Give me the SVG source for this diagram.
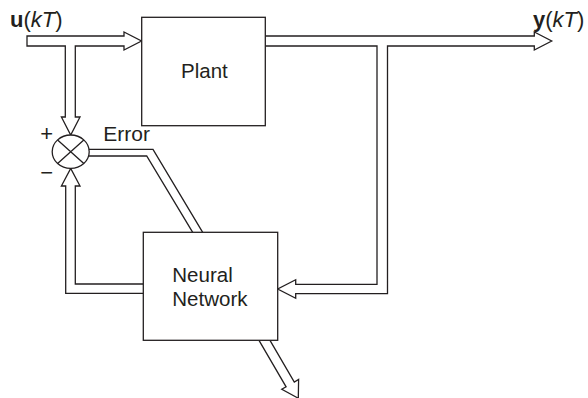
<svg xmlns="http://www.w3.org/2000/svg" width="588" height="398" viewBox="0 0 588 398">
<style>
.box{fill:#fff;stroke:#231f20;stroke-width:1.3}
.con{fill:#fff;stroke:#231f20;stroke-width:1.3;stroke-linejoin:miter}
.ln{fill:none;stroke:#231f20;stroke-width:1.3}
text{font-family:"Liberation Sans",Arial,sans-serif;font-size:20.5px;fill:#231f20}
.sig{font-size:22px}
.sign{font-size:22px}
</style>
<rect width="588" height="398" fill="#fff"/>
<g id="connectors">
<path class="con" d="M27,36 H124 V32 L141.5,41 L124,50 V46 H75.3 V117 H80 L70.7,135 L61.4,117 H65.3 V46 H27 Z"/>
<path class="con" d="M265.3,36 H534.3 V32 L551.7,41 L534.3,50 V46 H387.5 V293.7 H295.7 V298.3 L277.7,289 L295.7,279.7 V284.3 H377 V46 H265.3"/>
<path class="con" d="M143.3,284 H75.3 V186 H80 L70.7,168.5 L61.4,186 H65.7 V293.4 H143.3"/>
<path class="ln" d="M89,149.3 H153 L202.7,232.3"/>
<path class="ln" d="M88.4,156 H146.7 L192.7,232.3"/>
<path class="con" d="M259,340.3 L286.1,386.8 L281.8,389.3 L298.3,398.2 L298.6,379.5 L294.3,382 L270,340.3"/>
</g>
<g id="plant">
<rect class="box" x="141.7" y="17.3" width="123.6" height="108.4"/>
<text x="181" y="78.3">Plant</text>
</g>
<g id="neural-network">
<rect class="box" x="143.3" y="232.3" width="134.4" height="108"/>
<text x="172.3" y="281.7">Neural</text>
<text x="172.3" y="305.7">Network</text>
</g>
<g id="summer">
<ellipse class="box" cx="70.7" cy="151.7" rx="18.5" ry="16.7"/>
<path class="ln" d="M57.6,139.9 L83.8,163.5 M83.8,139.9 L57.6,163.5"/>
<text class="sign" x="46.7" y="140.5" text-anchor="middle">+</text>
<text class="sign" x="46.7" y="179.5" text-anchor="middle">−</text>
</g>
<g id="labels">
<text class="sig" x="10" y="27"><tspan font-weight="bold">u</tspan>(<tspan font-style="italic">kT</tspan>)</text>
<text class="sig" x="533" y="27"><tspan font-weight="bold">y</tspan>(<tspan font-style="italic">kT</tspan>)</text>
<text x="103.3" y="141" style="font-size:21px">Error</text>
</g>
</svg>
